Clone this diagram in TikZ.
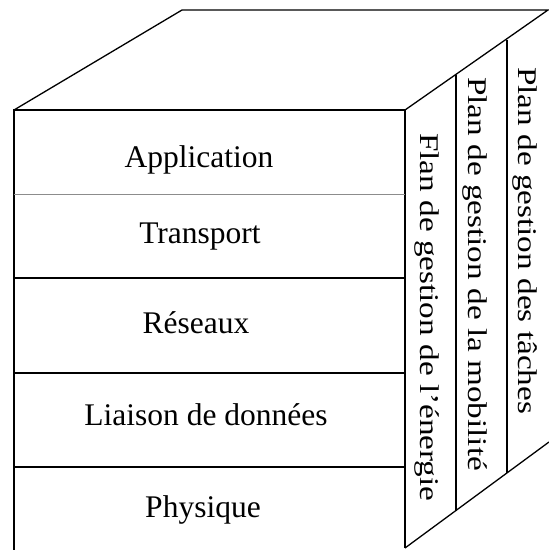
\documentclass[tikz,border=0pt]{standalone}
\usepackage{fontspec}
\setmainfont{Liberation Serif}
\begin{document}
\begin{tikzpicture}[x=1pt,y=-1pt,
  edge/.style={line width=1.3pt,black,line join=miter},
  thinedge/.style={line width=1pt,black!45},
  layer/.style={anchor=base,inner sep=0pt,font=\fontsize{31.5}{34}\selectfont},
  plane/.style={anchor=base west,rotate=-90,inner sep=0pt,font=\fontsize{27}{30}\selectfont}]
\useasboundingbox (0,0) rectangle (549,550);
\fill[white] (0,0) rectangle (549,550);

% corners of the block
\coordinate (ftl) at (14,110);   % front top left
\coordinate (ftr) at (405,110);  % front top right
\coordinate (fbl) at (14,552);   % front bottom left (below the page edge)
\coordinate (fbr) at (405,548);  % front bottom right
\coordinate (btl) at (182,10);   % back top left
\coordinate (btr) at (548,10);   % back top right
\coordinate (bbr) at (549,442);  % back bottom right

% top face
\draw[edge] (ftl) -- (btl) -- (btr) -- (ftr);
% front face
\draw[edge] (fbl) -- (ftl) -- (ftr) -- (fbr);
% right face bottom edge
\draw[edge] (fbr) -- (bbr);

% layer separators on the front face
\draw[thinedge] (14,194) -- (405,194);
\draw[edge] (14,278) -- (405,278);
\draw[edge] (14,373) -- (405,373);
\draw[edge] (14,467) -- (405,467);

% management plane separators on the right face
\draw[edge] (456,74.7) -- (456,510.5);
\draw[edge] (507,39.5) -- (507,473);

% layer names
\node[layer] (app) at (199,167) {Application};
\node[layer] (tra) at (200,243) {Transport};
\node[layer] (res) at (196,333) {Réseaux};
\node[layer] (lia) at (206,425) {Liaison de données};
\node[layer] (phy) at (203,517) {Physique};

% management planes
\node[plane] (nrg) at (420,133) {\scalebox{1.23}[1]{Flan de gestion de l\char39 énergie}};
\node[plane] (mob) at (468,77) {\scalebox{1.23}[1]{Plan de gestion de la mobilité}};
\node[plane] (tac) at (518,67) {\scalebox{1.23}[1]{Plan de gestion des tâches}};
\end{tikzpicture}
\end{document}
